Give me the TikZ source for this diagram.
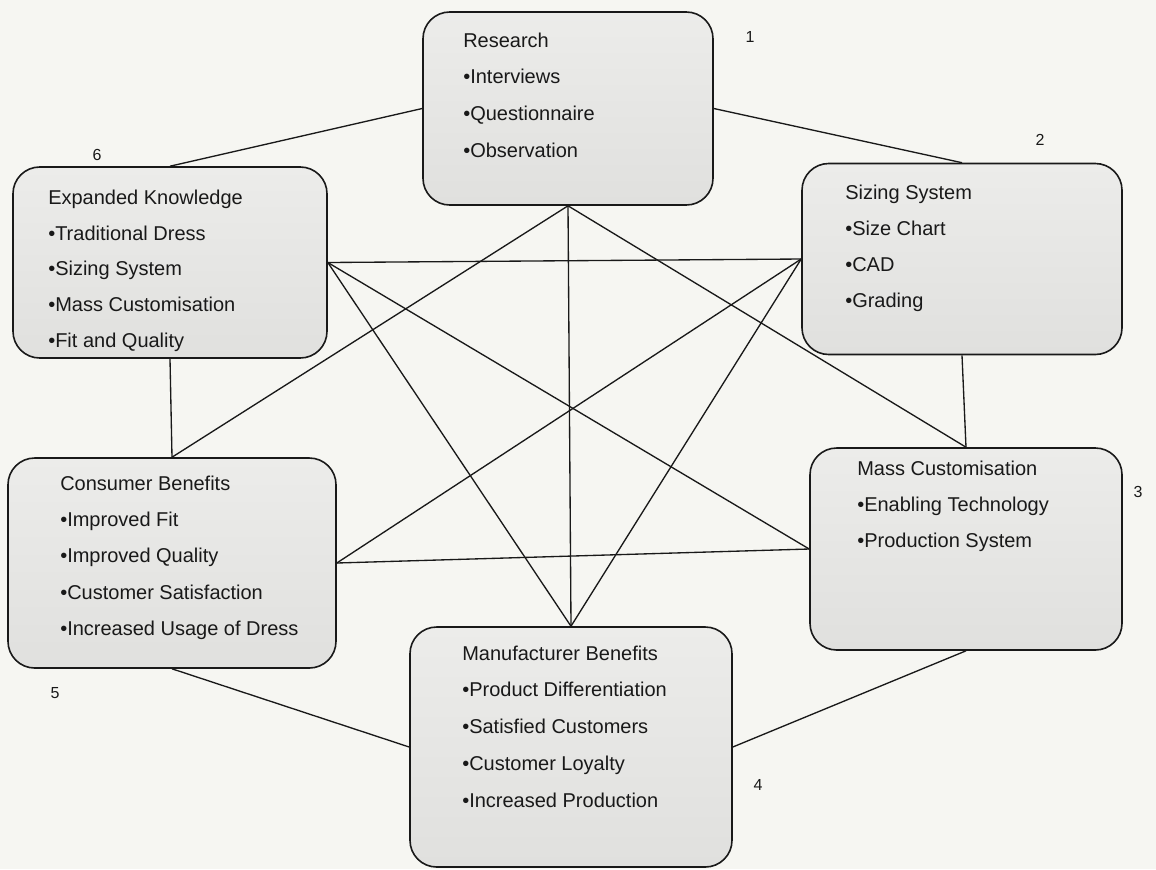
\documentclass[tikz,border=0pt]{standalone}
\usepackage{fontspec}
\setmainfont{Liberation Sans}
\definecolor{bg}{RGB}{246,246,242}
\definecolor{boxtop}{RGB}{236,236,234}
\definecolor{boxbot}{RGB}{224,224,222}
\definecolor{ink}{RGB}{25,25,25}
\begin{document}
\begin{tikzpicture}[x=0.75pt,y=-0.75pt,
  card/.style={draw=ink, line width=1.2pt, rounded corners=20pt, top color=boxtop, bottom color=boxbot, inner sep=0pt},
  link/.style={draw=ink, line width=1pt},
  lbl/.style={anchor=west, inner sep=0pt, text height=10.8pt, text depth=0pt, font=\fontsize{15pt}{18pt}\selectfont, text=ink},
  num/.style={inner sep=0pt, font=\fontsize{12pt}{14pt}\selectfont, text=ink}]
\fill[bg] (0,0) rectangle (1156,869);
\useasboundingbox (0,0) rectangle (1156,869);

% boxes
\node[card, minimum width=217.5pt, minimum height=144.75pt] (b1) at (568,108.5) {};
\node[card, minimum width=240pt,   minimum height=143.25pt] (b2) at (962,259) {};
\node[card, minimum width=234pt,   minimum height=151.5pt]  (b3) at (966,549) {};
\node[card, minimum width=241.5pt, minimum height=180pt]    (b4) at (571,747) {};
\node[card, minimum width=246pt,   minimum height=157.5pt]  (b5) at (172,563) {};
\node[card, minimum width=235.5pt, minimum height=143.25pt] (b6) at (170,262.5) {};

% connectors
\draw[link] (b1.west) -- (b6.north);
\draw[link] (b1.east) -- (b2.north);
\draw[link] (b1.south) -- (b4.north);
\draw[link] (b1.south) -- (b5.north);
\draw[link] (b1.south) -- (b3.north);
\draw[link] (b6.east) -- (b2.west);
\draw[link] (b6.east) -- (b4.north);
\draw[link] (b6.east) -- (b3.west);
\draw[link] (b6.south) -- (b5.north);
\draw[link] (b2.west) -- (b5.east);
\draw[link] (b2.west) -- (b4.north);
\draw[link] (b2.south) -- (b3.north);
\draw[link] (b5.east) -- (b3.west);
\draw[link] (b3.south) -- (b4.east);
\draw[link] (b4.west) -- (b5.south);

% texts
\foreach \t [count=\i from 0] in {Research,•Interviews,•Questionnaire,•Observation}
  \node[lbl] (t1-\i) at (463,{40+\i*36.6}) {\t};
\foreach \t [count=\i from 0] in {Sizing System,•Size Chart,•CAD,•Grading}
  \node[lbl] (t2-\i) at (845,{192+\i*36}) {\t};
\foreach \t [count=\i from 0] in {Mass Customisation,•Enabling Technology,•Production System}
  \node[lbl] (t3-\i) at (857,{468+\i*36}) {\t};
\foreach \t [count=\i from 0] in {Manufacturer Benefits,•Product Differentiation,•Satisfied Customers,•Customer Loyalty,•Increased Production}
  \node[lbl] (t4-\i) at (462,{653+\i*36.7}) {\t};
\foreach \t [count=\i from 0] in {Consumer Benefits,•Improved Fit,•Improved Quality,•Customer Satisfaction,•Increased Usage of Dress}
  \node[lbl] (t5-\i) at (60,{483+\i*36.3}) {\t};
\foreach \t [count=\i from 0] in {Expanded Knowledge,•Traditional Dress,•Sizing System,•Mass Customisation,•Fit and Quality}
  \node[lbl] (t6-\i) at (48,{197+\i*35.8}) {\t};

% numbers
\node[num] (n1) at (750,37) {1};
\node[num] (n2) at (1040,140) {2};
\node[num] (n3) at (1138,492) {3};
\node[num] (n4) at (758,785) {4};
\node[num] (n5) at (55,693) {5};
\node[num] (n6) at (97,155) {6};
\end{tikzpicture}
\end{document}
